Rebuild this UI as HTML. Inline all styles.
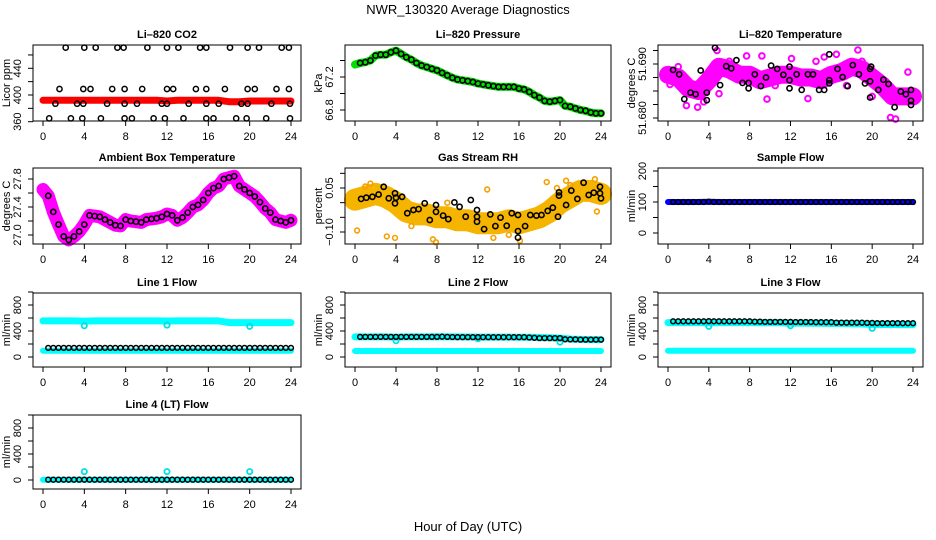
<!DOCTYPE html>
<html>
<head>
<meta charset="utf-8">
<style>
html,body{margin:0;padding:0;background:#fff;}
svg{display:block;}
text{font-family:"Liberation Sans",Arial,sans-serif;fill:#000;}
</style>
</head>
<body>
<svg id="chart" width="936" height="540" viewBox="0 0 936 540" xmlns="http://www.w3.org/2000/svg">
<rect x="0" y="0" width="936" height="540" fill="#fff"/>
<text x="468" y="14" font-size="13" text-anchor="middle">NWR_130320  Average Diagnostics</text>
<text x="468" y="531" font-size="13" text-anchor="middle">Hour of Day (UTC)</text>
</svg>
<script>
// ---------- shared time arrays ----------
const hours25 = [0,1,2,3,4,5,6,7,8,9,10,11,12,13,14,15,16,17,18,19,20,21,22,23,24];
const half49 = [0,0.5,1,1.5,2,2.5,3,3.5,4,4.5,5,5.5,6,6.5,7,7.5,8,8.5,9,9.5,10,10.5,11,11.5,12,12.5,13,13.5,14,14.5,15,15.5,16,16.5,17,17.5,18,18.5,19,19.5,20,20.5,21,21.5,22,22.5,23,23.5,24];
const half48 = [0.5,1,1.5,2,2.5,3,3.5,4,4.5,5,5.5,6,6.5,7,7.5,8,8.5,9,9.5,10,10.5,11,11.5,12,12.5,13,13.5,14,14.5,15,15.5,16,16.5,17,17.5,18,18.5,19,19.5,20,20.5,21,21.5,22,22.5,23,23.5,24];
const xTicks = [0,4,8,12,16,20,24];

// ---------- CO2 ----------
const co2Red = [392,392,392,392,392,392,392,392,392,392,392,392,391,392,392,392,392,392,390,390,391,391,391,391,391];
const co2HighT = [2.2,4.0,5.1,7.2,7.8,10.1,12.0,13.1,15.2,15.8,18.1,19.8,20.9,23.1,23.8];
const co2HighV = [471,471,471,471,471,471,471,471,471,471,471,471,471,471,471];
const co2MidT = [1.6,3.9,4.6,6.7,7.9,9.6,12.0,12.6,14.8,15.8,17.6,19.8,20.5,22.6,23.8];
const co2MidV = [409,409,409,409,409,409,409,409,409,409,409,409,409,409,409];
const co2LowT = [1.2,3.3,3.9,6.2,7.9,9.1,11.5,12.0,14.1,15.8,17.0,19.2,19.8,22.1,23.9];
const co2LowV = [387,387,387,387,387,387,387,387,387,387,387,387,387,387,387];
const co2BotT = [0.6,2.7,3.8,5.6,7.9,8.6,10.7,11.8,13.6,15.8,16.5,18.7,19.7,21.6,23.9];
const co2BotV = [365,365,365,365,365,365,365,365,365,365,365,365,365,365,365];

// ---------- Pressure ----------
const pressV = [67.35,67.37,67.38,67.40,67.46,67.47,67.47,67.50,67.52,67.48,67.44,67.41,67.37,67.34,67.32,67.30,67.28,67.25,67.22,67.19,67.17,67.16,67.15,67.14,67.12,67.11,67.10,67.09,67.08,67.08,67.08,67.08,67.06,67.05,67.02,66.98,66.95,66.91,66.90,66.91,66.92,66.85,66.84,66.82,66.80,66.79,66.77,66.76,66.76];

// ---------- Li-820 temperature ----------
const tempBand = [51.6880,51.6875,51.6855,51.6850,51.6870,51.6895,51.6890,51.6880,51.6880,51.6870,51.6875,51.6880,51.6880,51.6875,51.6875,51.6870,51.6880,51.6885,51.6895,51.6890,51.6875,51.6860,51.6840,51.6840,51.6840];
const tempExtraT = [1.8,2.9,4.8,7.7,9.7,12.1,13.7,15.3,16.5,18.6,21.8,22.3,23.5,5.0,9.2,20.0,0.2,1.0,3.5,6.0,10.5,14.5,17.5,19.0];
const tempExtraV = [51.6823,51.6820,51.6925,51.6915,51.6835,51.6910,51.6836,51.6913,51.6918,51.6926,51.6801,51.6798,51.6885,51.6845,51.6915,51.6840,51.6862,51.6895,51.6830,51.6905,51.6860,51.6905,51.6860,51.6905];
const tempT = [0.5,1.1,1.6,2.2,2.7,3.2,3.8,3.8,4.6,5.1,5.7,6.2,6.7,7.3,7.9,7.9,8.5,9.1,9.6,10.1,10.7,11.3,11.9,11.9,11.9,12.6,13.1,13.7,14.2,14.8,15.3,15.8,15.8,15.8,16.6,17.1,17.6,18.1,18.7,19.3,19.8,19.9,19.8,19.8,20.6,21.1,21.6,22.2,22.8,23.3,23.8,23.8,23.8];
const tempV = [51.6889,51.6881,51.6835,51.6847,51.6844,51.6888,51.6847,51.6833,51.6930,51.6861,51.6896,51.6892,51.6907,51.6865,51.6865,51.6855,51.6881,51.6859,51.6875,51.6897,51.6891,51.6880,51.6895,51.6870,51.6855,51.6881,51.6852,51.6881,51.6881,51.6852,51.6852,51.6864,51.6870,51.6918,51.6891,51.6876,51.6859,51.6898,51.6881,51.6864,51.6891,51.6895,51.6868,51.6838,51.6852,51.6871,51.6863,51.6820,51.6849,51.6844,51.6852,51.6832,51.6824];

// ---------- Ambient box temperature ----------
const ambV = [27.65,27.56,27.33,27.15,26.98,26.93,26.98,27.05,27.15,27.28,27.27,27.26,27.22,27.18,27.14,27.13,27.22,27.20,27.19,27.18,27.22,27.23,27.24,27.26,27.30,27.28,27.21,27.25,27.32,27.40,27.43,27.50,27.60,27.67,27.70,27.80,27.82,27.84,27.70,27.65,27.60,27.55,27.47,27.38,27.32,27.22,27.20,27.18,27.21];

// ---------- Gas stream RH ----------
const rhBand = [0.010,0.020,0.030,0.020,0.000,-0.030,-0.040,-0.040,-0.050,-0.050,-0.060,-0.060,-0.070,-0.070,-0.070,-0.060,-0.070,-0.060,-0.050,-0.030,0.000,0.020,0.040,0.040,0.030];
const rhExtraT = [0.2,1.5,3.1,3.9,7.6,7.9,11.9,12.9,15.0,16.1,18.7,19.7,20.6,23.4,23.6,1.0,5.5,9.0,13.5,21.0];
const rhExtraV = [-0.095,0.065,-0.115,-0.120,-0.125,-0.135,-0.050,0.045,-0.110,-0.130,0.070,0.050,0.075,0.080,-0.030,0.055,-0.080,0.000,-0.120,0.060];
const rhT = [0.6,1.1,1.7,2.3,2.8,3.3,3.9,3.9,4.0,4.6,5.1,5.7,6.2,6.8,7.3,7.9,7.9,8.6,9.1,9.7,10.2,10.8,11.3,11.9,11.9,11.9,12.6,13.2,13.7,14.2,14.8,15.3,15.9,15.9,15.9,16.6,17.1,17.7,18.2,18.8,19.3,19.8,19.9,19.9,20.6,21.1,21.7,22.3,22.8,23.3,23.9,23.9,24.0];
const rhV = [0.013,0.017,0.020,0.028,0.054,0.015,0.032,-0.002,0.017,0.020,-0.036,-0.025,-0.022,-0.002,-0.059,-0.008,-0.031,-0.044,-0.056,0.001,-0.014,-0.048,0.009,-0.025,-0.048,-0.065,-0.090,-0.040,-0.080,-0.051,-0.079,-0.036,-0.042,-0.097,-0.119,-0.080,-0.042,-0.044,-0.042,-0.028,-0.017,-0.048,0.035,0.024,-0.008,0.041,0.013,0.068,0.026,0.034,0.054,0.032,0.015];

// ---------- Sample flow ----------
const sampleBand = [100,100,100,100,101,100,100,100,100,100,100,100,100,100,100,100,100,100,100,100,100,100,100,100,100];
const sampleV = [100,100,100,100,100,100,100,101,100,100,100,100,100,100,100,100,100,100,100,100,100,100,100,100,100,100,100,100,100,100,100,100,100,100,100,100,100,100,100,100,100,100,100,100,100,100,100,100];

// ---------- Line flows ----------
const l1CyanHi = [555,555,556,556,552,556,556,556,556,555,555,555,554,555,555,555,555,555,530,530,530,530,530,530,530];
const l1CyanLo = [97,97,97,97,97,97,97,97,97,97,97,97,97,97,97,97,97,97,97,97,97,97,97,97,97];
const l1Black = [140,140,140,140,140,140,140,140,140,140,140,140,140,140,140,140,140,140,140,140,140,140,140,140,140,140,140,140,140,140,140,140,140,140,140,140,140,140,140,140,140,140,140,140,140,140,140,140];
const l2CyanHi = [310,310,310,310,305,310,310,310,312,310,310,308,306,306,306,306,305,305,300,295,290,275,270,268,268];
const l2CyanLo = [92,92,92,92,92,92,92,92,92,92,92,92,92,92,92,92,92,92,92,92,92,92,92,92,92];
const l2Black = [310,310,310,310,310,310,310,310,310,310,310,310,310,310,310,310,312,310,308,306,306,306,306,306,305,305,305,305,305,305,305,305,305,300,295,290,290,290,290,290,272,270,270,268,268,268,268,268];
const l3CyanHi = [530,530,530,530,525,530,530,530,530,528,528,526,520,522,520,518,516,515,512,510,500,500,500,498,498];
const l3CyanLo = [97,97,97,97,97,97,97,97,97,97,97,97,97,97,97,97,97,97,97,97,97,97,97,97,97];
const l3Black = [550,550,550,550,550,550,550,552,550,550,550,550,550,550,550,550,545,545,540,540,540,540,540,540,538,538,538,538,535,535,535,535,530,530,530,530,528,528,525,525,522,522,522,522,522,520,520,520];
const l4CyanLo = [5,5,5,5,5,5,5,5,5,5,5,5,5,5,5,5,5,5,5,5,5,5,5,5,5];
const l4Black = [5,5,5,5,5,5,5,5,5,5,5,5,5,5,5,5,5,5,5,5,5,5,5,5,5,5,5,5,5,5,5,5,5,5,5,5,5,5,5,5,5,5,5,5,5,5,5,5];
const outT = [4,12,20];
const l1OutV = [480,490,470];
const l2OutV = [250,280,230];
const l3OutV = [470,480,440];
const l4OutV = [130,130,130];

// ---------- helpers ----------
const NS = "http://www.w3.org/2000/svg";
const svg = document.getElementById("chart");
function mk(tag, attrs, parent){
  const el = document.createElementNS(NS, tag);
  for (const k in attrs) el.setAttribute(k, attrs[k]);
  (parent || svg).appendChild(el);
  return el;
}
function makePanel(cfg){
  const p = Object.assign({}, cfg);
  p.sx = t => p.x0 + t * (p.x24 - p.x0) / 24;
  p.sy = v => p.y1 + (v - p.v1) * (p.y2 - p.y1) / (p.v2 - p.v1);
  const g = mk("g", {});
  
  
  p.g = g;
  const [l, t, r, b] = p.box;
  const title = mk("text", {x:(l+r)/2, y:t-7, "font-size":11, "font-weight":"bold", "text-anchor":"middle"}, g);
  
  
  title.textContent = p.title;
  const xa = mk("g", {}, g);
  
  
  mk("line", {x1:p.sx(0), x2:p.sx(24), y1:b, y2:b, stroke:"#000"}, xa);
  xTicks.forEach(tk => {
    const x = p.sx(tk);
    mk("line", {x1:x, x2:x, y1:b, y2:b+5, stroke:"#000"}, xa);
    const lab = mk("text", {x:x, y:b+19, "font-size":11, "text-anchor":"middle"}, xa);
    
    
    lab.textContent = tk;
  });
  const ya = mk("g", {}, g);
  
  
  mk("line", {x1:l, x2:l, y1:p.sy(p.yticks[0]), y2:p.sy(p.yticks[p.yticks.length-1]), stroke:"#000"}, ya);
  p.yticks.forEach(tk => {
    const y = p.sy(tk);
    mk("line", {x1:l-5, x2:l, y1:y, y2:y, stroke:"#000"}, ya);
  });
  p.ylabels.forEach((tk, i) => {
    const y = p.sy(tk);
    const lab = mk("text", {x:l-12, y:y, "font-size":11, "text-anchor":"middle", transform:"rotate(-90 " + (l-12) + " " + y + ")"}, ya);
    
    
    lab.textContent = p.ylabelText[i];
  });
  const yl = mk("text", {x:l-23, y:(t+b)/2, "font-size":11, "text-anchor":"middle", transform:"rotate(-90 " + (l-23) + " " + ((t+b)/2) + ")"}, ya);
  
  
  yl.textContent = p.ylab;
  p.marks = mk("g", {}, g);
  
  
  const box = mk("rect", {x:l, y:t, width:r-l, height:b-t, fill:"none", stroke:"#000"}, g);
  
  
  return p;
}
function band(p, ts, vs, color, w, name){
  const pts = ts.map((t,i) => p.sx(t).toFixed(1) + "," + p.sy(vs[i]).toFixed(1)).join(" ");
  const pl = mk("polyline", {points:pts, fill:"none", stroke:color, "stroke-width":w, "stroke-linejoin":"round", "stroke-linecap":"round"}, p.marks);
  
  
}
function dots(p, ts, vs, color, r, sw, name){
  ts.forEach((t,i) => {
    const c = mk("circle", {cx:p.sx(t).toFixed(1), cy:p.sy(vs[i]).toFixed(1), r:r, fill:"none", stroke:color, "stroke-width":sw}, p.marks);
    
    
  });
}

const C1 = {x0:43, x24:291}, C2 = {x0:355, x24:601}, C3 = {x0:668, x24:913};
const B1 = [33,301], B2 = [345,611], B3 = [658,923];

let p;
p = makePanel({name:"co2-panel", title:"Li\u2013820 CO2", box:[B1[0],45,B1[1],121], x0:C1.x0, x24:C1.x24, v1:400, y1:95, v2:440, y2:68.3, yticks:[360,380,400,420,440,460], ylabels:[360,400,440], ylabelText:["360","400","440"], ylab:"Licor ppm"});
band(p, hours25, co2Red, "#ff0000", 7, "co2-red-series");
dots(p, co2HighT, co2HighV, "#000", 2.6, 1.5, "co2-point");
dots(p, co2MidT, co2MidV, "#000", 2.6, 1.5, "co2-point");
dots(p, co2LowT, co2LowV, "#000", 2.6, 1.5, "co2-point");
dots(p, co2BotT, co2BotV, "#000", 2.6, 1.5, "co2-point");

p = makePanel({name:"pressure-panel", title:"Li\u2013820 Pressure", box:[B2[0],45,B2[1],121], x0:C2.x0, x24:C2.x24, v1:67.2, y1:77, v2:66.8, y2:110, yticks:[66.8,67.0,67.2,67.4], ylabels:[66.8,67.2], ylabelText:["66.8","67.2"], ylab:"kPa"});
band(p, half49, pressV, "#00e000", 8, "pressure-green-series");
dots(p, half49.slice(1), pressV.slice(1), "#000", 2.6, 1.6, "pressure-point");

p = makePanel({name:"li820-temperature-panel", title:"Li\u2013820 Temperature", box:[B3[0],45,B3[1],121], x0:C3.x0, x24:C3.x24, v1:51.680, y1:118, v2:51.690, y2:64, yticks:[51.680,51.6825,51.685,51.6875,51.690,51.6925], ylabels:[51.680,51.690], ylabelText:["51.680","51.690"], ylab:"degrees C"});
band(p, hours25, tempBand, "#ff00ff", 18, "temperature-magenta-series");
dots(p, tempExtraT, tempExtraV, "#ff00ff", 2.8, 2, "temperature-magenta-point");
dots(p, tempT, tempV, "#000", 2.6, 1.6, "temperature-point");

p = makePanel({name:"ambient-temperature-panel", title:"Ambient Box Temperature", box:[B1[0],168,B1[1],244], x0:C1.x0, x24:C1.x24, v1:27.0, y1:235, v2:27.8, y2:179, yticks:[27.0,27.2,27.4,27.6,27.8], ylabels:[27.0,27.4,27.8], ylabelText:["27.0","27.4","27.8"], ylab:"degrees C"});
band(p, half49, ambV, "#ff00ff", 13, "ambient-magenta-series");
dots(p, half49.slice(1), ambV.slice(1), "#000", 2.6, 1.6, "ambient-point");

p = makePanel({name:"gas-rh-panel", title:"Gas Stream RH", box:[B2[0],168,B2[1],244], x0:C2.x0, x24:C2.x24, v1:0.05, y1:188, v2:-0.10, y2:232, yticks:[-0.10,-0.05,0,0.05,0.10], ylabels:[-0.10,0.05], ylabelText:["\u22120.10","0.05"], ylab:"percent"});
band(p, hours25, rhBand, "#f5b400", 22, "rh-orange-series");
dots(p, rhExtraT, rhExtraV, "#f5a000", 2.4, 1.6, "rh-orange-point");
dots(p, rhT, rhV, "#000", 2.6, 1.6, "rh-point");

p = makePanel({name:"sample-flow-panel", title:"Sample Flow", box:[B3[0],168,B3[1],244], x0:C3.x0, x24:C3.x24, v1:0, y1:233, v2:200, y2:171, yticks:[0,50,100,150,200], ylabels:[0,100,200], ylabelText:["0","100","200"], ylab:"ml/min"});
band(p, hours25, sampleBand, "#0000ff", 6, "sample-blue-series");
dots(p, half48, sampleV, "#000", 2.4, 1.5, "sample-point");

function flowPanel(name, title, box, C, yTop, y0, hi, lo, blk, outV){
  const q = makePanel({name:name, title:title, box:box, x0:C.x0, x24:C.x24, v1:0, y1:y0, v2:400, y2:y0-26, yticks:[0,200,400,600,800,1000], ylabels:[0,400,800], ylabelText:["0","400","800"], ylab:"ml/min"});
  if (hi) band(q, hours25, hi, "#00ffff", 7, name + "-cyan-high-series");
  band(q, hours25, lo, "#00ffff", 6, name + "-cyan-low-series");
  dots(q, outT, outV, "#00e0e0", 2.6, 1.8, name + "-cyan-outlier");
  dots(q, half48, blk, "#000", 2.4, 1.5, name + "-black-point");
}
flowPanel("line1-flow-panel", "Line 1 Flow", [B1[0],293,B1[1],367], C1, 293, 357, l1CyanHi, l1CyanLo, l1Black, l1OutV);
flowPanel("line2-flow-panel", "Line 2 Flow", [B2[0],293,B2[1],367], C2, 293, 357, l2CyanHi, l2CyanLo, l2Black, l2OutV);
flowPanel("line3-flow-panel", "Line 3 Flow", [B3[0],293,B3[1],367], C3, 293, 357, l3CyanHi, l3CyanLo, l3Black, l3OutV);
flowPanel("line4-flow-panel", "Line 4 (LT) Flow", [B1[0],415,B1[1],489], C1, 415, 480, null, l4CyanLo, l4Black, l4OutV);
</script>
</body>
</html>
